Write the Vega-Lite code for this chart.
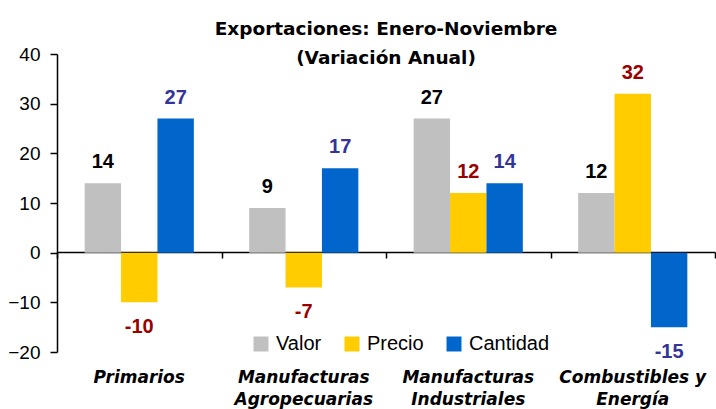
{
  "$schema": "https://vega.github.io/schema/vega-lite/v6.json",
  "width": 658,
  "height": 298,
  "autosize": {"type": "none"},
  "padding": {"left": 57, "top": 54, "right": 1, "bottom": 57},
  "config": {"view": {"stroke": null}, "font": "Liberation Sans"},
  "title": {
    "text": ["Exportaciones: Enero-Noviembre", "(Variación Anual)"],
    "font": "DejaVu Sans",
    "fontSize": 18.5,
    "fontWeight": "bold",
    "lineHeight": 29,
    "anchor": "middle",
    "offset": -22,
    "color": "black"
  },
  "data": {
    "values": [
      {"sector": "Primarios", "serie": "Valor", "valor": 14},
      {"sector": "Primarios", "serie": "Precio", "valor": -10},
      {"sector": "Primarios", "serie": "Cantidad", "valor": 27},
      {"sector": "Manufacturas Agropecuarias", "serie": "Valor", "valor": 9},
      {"sector": "Manufacturas Agropecuarias", "serie": "Precio", "valor": -7},
      {"sector": "Manufacturas Agropecuarias", "serie": "Cantidad", "valor": 17},
      {"sector": "Manufacturas Industriales", "serie": "Valor", "valor": 27},
      {"sector": "Manufacturas Industriales", "serie": "Precio", "valor": 12},
      {"sector": "Manufacturas Industriales", "serie": "Cantidad", "valor": 14},
      {"sector": "Combustibles y Energía", "serie": "Valor", "valor": 12},
      {"sector": "Combustibles y Energía", "serie": "Precio", "valor": 32},
      {"sector": "Combustibles y Energía", "serie": "Cantidad", "valor": -15}
    ]
  },
  "resolve": {"axis": {"x": "independent"}},
  "layer": [
    {
      "mark": {"type": "bar"},
      "encoding": {
        "x": {
          "field": "sector", "type": "nominal",
          "sort": ["Primarios", "Manufacturas Agropecuarias", "Manufacturas Industriales", "Combustibles y Energía"],
          "scale": {"paddingInner": 0, "paddingOuter": 0},
          "axis": {
            "orient": "bottom", "offset": -100, "title": null, "labels": false,
            "ticks": true, "tickBand": "extent", "tickSize": 6, "tickColor": "black", "tickWidth": 1.5,
            "domain": true, "domainColor": "black", "domainWidth": 1.5, "grid": false
          }
        },
        "xOffset": {
          "field": "serie", "type": "nominal",
          "sort": ["Valor", "Precio", "Cantidad"],
          "scale": {"paddingInner": 0, "paddingOuter": 0.76}
        },
        "y": {
          "field": "valor", "type": "quantitative",
          "scale": {"domain": [-20, 40], "nice": false},
          "axis": {
            "title": null, "values": [-20, -10, 0, 10, 20, 30, 40], "grid": false,
            "tickSize": 7, "tickColor": "black", "tickWidth": 1.5, "labelPadding": 10,
            "labelFontSize": 19, "labelColor": "black", "domainColor": "black", "domainWidth": 1.5
          }
        },
        "color": {
          "field": "serie", "type": "nominal",
          "scale": {"domain": ["Valor", "Precio", "Cantidad"], "range": ["#C0C0C0", "#FFCC00", "#0066CC"]},
          "legend": {
            "title": null, "orient": "none", "direction": "horizontal",
            "legendX": 194, "legendY": 280, "symbolType": "square", "symbolSize": 225,
            "symbolStrokeWidth": 0, "symbolOpacity": 1, "labelFontSize": 20, "labelColor": "black",
            "labelOffset": 5, "columnPadding": 20, "padding": 0
          }
        }
      }
    },
    {
      "transform": [{"filter": "datum.valor >= 0"}],
      "mark": {"type": "text", "fontSize": 20, "fontWeight": "bold", "baseline": "alphabetic", "dy": -15},
      "encoding": {
        "x": {"field": "sector", "type": "nominal", "sort": ["Primarios", "Manufacturas Agropecuarias", "Manufacturas Industriales", "Combustibles y Energía"], "axis": null},
        "xOffset": {"field": "serie", "type": "nominal", "sort": ["Valor", "Precio", "Cantidad"]},
        "y": {"field": "valor", "type": "quantitative"},
        "text": {"field": "valor", "type": "nominal"},
        "color": {
          "condition": [
            {"test": "datum.serie === 'Precio'", "value": "#990000"},
            {"test": "datum.serie === 'Cantidad'", "value": "#333399"}
          ],
          "value": "black"
        }
      }
    },
    {
      "transform": [{"filter": "datum.valor < 0"}],
      "mark": {"type": "text", "fontSize": 20, "fontWeight": "bold", "baseline": "alphabetic", "dy": 31},
      "encoding": {
        "x": {"field": "sector", "type": "nominal", "sort": ["Primarios", "Manufacturas Agropecuarias", "Manufacturas Industriales", "Combustibles y Energía"], "axis": null},
        "xOffset": {"field": "serie", "type": "nominal", "sort": ["Valor", "Precio", "Cantidad"]},
        "y": {"field": "valor", "type": "quantitative"},
        "text": {"field": "valor", "type": "nominal"},
        "color": {
          "condition": [
            {"test": "datum.serie === 'Precio'", "value": "#990000"},
            {"test": "datum.serie === 'Cantidad'", "value": "#333399"}
          ],
          "value": "black"
        }
      }
    },
    {
      "mark": {"type": "tick", "opacity": 0},
      "encoding": {
        "x": {
          "field": "sector", "type": "nominal",
          "sort": ["Primarios", "Manufacturas Agropecuarias", "Manufacturas Industriales", "Combustibles y Energía"],
          "axis": {
            "orient": "bottom", "title": null, "domain": false, "ticks": false, "grid": false,
            "labelAngle": 0, "labelFont": "DejaVu Sans", "labelFontSize": 17, "labelFontWeight": "bold", "labelFontStyle": "italic",
            "labelColor": "black", "labelPadding": 17, "labelLineHeight": 22, "labelLimit": 0,
            "labelExpr": "datum.value == 'Combustibles y Energía' ? ['Combustibles y', 'Energía'] : split(datum.value, ' ')"
          }
        },
        "y": {"datum": 0}
      }
    }
  ]
}
